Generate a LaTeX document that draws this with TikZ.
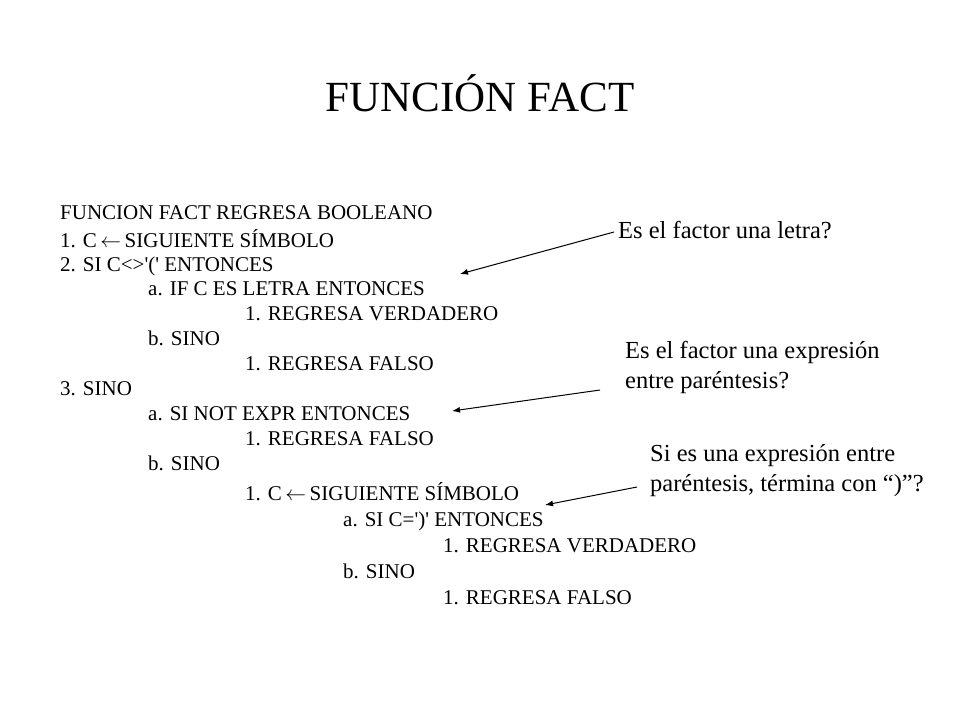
\documentclass[tikz,border=0pt]{standalone}
\usepackage{fontspec}
\newfontfamily\tms{Liberation Serif}
\usetikzlibrary{arrows.meta}
\newcommand{\larr}{\,$\leftarrow$\,}
\begin{document}
\begin{tikzpicture}[x=1pt,y=-1pt,
  code/.style={anchor=base west,inner sep=0pt,font=\tms\fontsize{21}{25}\selectfont},
  note/.style={anchor=base west,inner sep=0pt,align=left,font=\tms\fontsize{24.5}{30}\selectfont},
  ptr/.style={draw=black,line width=1pt,-{Latex[length=8pt,width=6pt]}}]
\useasboundingbox[fill=white] (0,0) rectangle (960,720);
\node[anchor=base,inner sep=0pt,font=\tms\fontsize{43}{50}\selectfont] (title) at (480,111) {FUNCIÓN FACT};
\node[code] (l1) at (60,219) {FUNCION FACT REGRESA BOOLEANO};
\node[code] (l2) at (60,247) {1. C\larr SIGUIENTE SÍMBOLO};
\node[code] (l3) at (60,271) {2. SI C<>'(' ENTONCES};
\node[code] (l4) at (148,295) {a. IF C ES LETRA ENTONCES};
\node[code] (l5) at (245,320) {1. REGRESA VERDADERO};
\node[code] (l6) at (148,345) {b. SINO};
\node[code] (l7) at (245,370) {1. REGRESA FALSO};
\node[code] (l8) at (60,395) {3. SINO};
\node[code] (l9) at (148,420) {a. SI NOT EXPR ENTONCES};
\node[code] (l10) at (245,445) {1. REGRESA FALSO};
\node[code] (l11) at (148,470) {b. SINO};
\node[code] (l12) at (245,500) {1. C\larr SIGUIENTE SÍMBOLO};
\node[code] (l13) at (343,526) {a. SI C=')' ENTONCES};
\node[code] (l14) at (443,552) {1. REGRESA VERDADERO};
\node[code] (l15) at (343,578) {b. SINO};
\node[code] (l16) at (443,604) {1. REGRESA FALSO};
\node[note] (n1) at (618,238) {Es el factor una letra?};
\node[note] (n2) at (625,388) {Es el factor una expresión\\entre paréntesis?};
\node[note] (n3) at (650,491) {Si es una expresión entre\\paréntesis, términa con “)”?};
\coordinate (s1) at (614,232);
\coordinate (t1) at (460,274);
\coordinate (s2) at (600,390);
\coordinate (t2) at (452,411);
\coordinate (s3) at (637,487);
\coordinate (t3) at (545,505);
\draw[ptr] (s1) -- (t1);
\draw[ptr] (s2) -- (t2);
\draw[ptr] (s3) -- (t3);
\end{tikzpicture}
\end{document}
